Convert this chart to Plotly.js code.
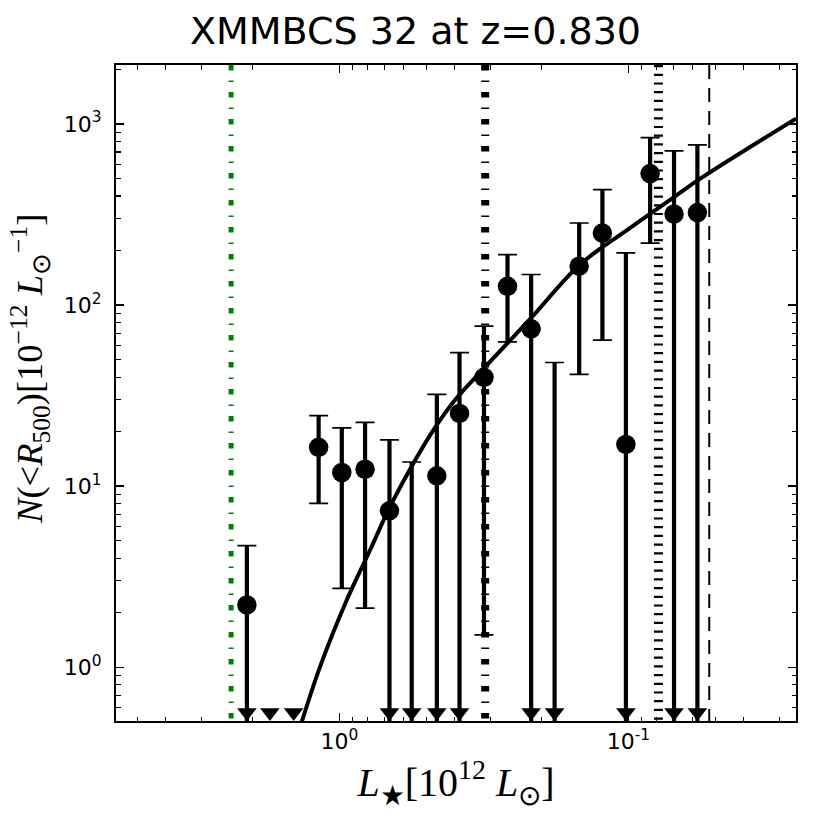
<!DOCTYPE html>
<html>
<head>
<meta charset="utf-8">
<script src="https://cdn.plot.ly/plotly-3.0.1.min.js"></script>
<style>html,body{margin:0;padding:0;background:#fff;}#chart{width:830px;height:830px;}</style>
</head>
<body>
<div id="chart"></div>
<script>
// ---- data ----
const binX = [2.09, 1.74, 1.44, 1.18, 0.981, 0.815, 0.671, 0.562, 0.460, 0.384,
              0.316, 0.262, 0.217, 0.180, 0.148, 0.123, 0.102, 0.0841, 0.0695, 0.0577];
// central values (null = not drawn / below range)
const nMid = [2.21, null, null, 16.4, 11.9, 12.4, 7.31, null, 11.4, 25.2,
              39.9, 127, 73.9, null, 164, 250, 17.0, 532, 318, 324];
// upper end of error bar (null = no bar)
const nHi  = [4.69, null, null, 24.5, 21.0, 22.5, 18.0, 13.6, 32.1, 54.7,
              76.5, 190, 147.5, 48.2, 284, 434, 194, 841, 710, 766];
// lower end of error bar (0 = reaches zero -> upper limit arrow)
const nLo  = [0, 0, 0, 8.04, 2.73, 2.12, 0, 0, 0, 0,
              1.51, 62.7, 0, 0, 41.4, 64.0, 0, 220, 0, 0];

// fitted curve
const fitX = [1.349, 1.166, 0.943, 0.783, 0.677, 0.547, 0.473, 0.398, 0.316, 0.217, 0.148, 0.102, 0.0695, 0.0564, 0.0263];
const fitY = [0.501, 1.008, 2.35, 4.44, 7.38, 13.9, 20.4, 29.9, 44.8, 85.0, 166, 257, 395, 499, 1071];

// vertical reference lines
const vlineX = [2.37, 0.313, 0.0787, 0.0525];

// texts
const titleText = 'XMMBCS 32 at z=0.830';
const xTitle = '<i>L</i><sub>★</sub>[10<sup>12</sup> <i>L</i><sub>⊙</sub>]';
const yTitle = '<i>N</i>(&lt;<i>R</i><sub>500</sub>)[10<sup>−12</sup> <i>L</i><sub>⊙</sub><sup>−1</sup>]';

// axes
const xRange = [5.93, 0.0263];
const yRange = [0.505, 2117];
const xTickVals = [1, 0.1];
const xTickText = ['10<sup>0</sup>', '10<sup>-1</sup>'];
const yTickVals = [1, 10, 100, 1000];
const yTickText = ['10<sup>0</sup>', '10<sup>1</sup>', '10<sup>2</sup>', '10<sup>3</sup>'];
const xMinor = [0.03,0.04,0.05,0.06,0.07,0.08,0.09,0.2,0.3,0.4,0.5,0.6,0.7,0.8,0.9,2,3,4,5];
const yMinor = [0.6,0.7,0.8,0.9,2,3,4,5,6,7,8,9,20,30,40,50,60,70,80,90,200,300,400,500,600,700,800,900,2000];

// ---- derived ----
const ebX = [], ebY = [], ebP = [], ebM = [];
for (let i = 0; i < binX.length; i++) {
  if (nHi[i] === null) continue;
  const y = (nMid[i] !== null) ? nMid[i] : nHi[i];
  ebX.push(binX[i]); ebY.push(y);
  ebP.push(nHi[i] - y);
  ebM.push(nLo[i] > 0 ? y - nLo[i] : y);
}
const ptX = [], ptY = [];
for (let i = 0; i < binX.length; i++) if (nMid[i] !== null) { ptX.push(binX[i]); ptY.push(nMid[i]); }
const limY0 = yRange[0] * 1.115;
const limX = [], limY = [];
for (let i = 0; i < binX.length; i++) if (!(nLo[i] > 0)) { limX.push(binX[i]); limY.push(limY0); }

const hidden = {size: 1, color: 'rgba(0,0,0,0)'};
const traces = [
  {x: fitX, y: fitY, mode: 'lines', line: {color: 'black', width: 4, shape: 'spline'}, hoverinfo: 'skip'},
  {x: ebX, y: ebY, mode: 'markers', marker: hidden,
   error_y: {type: 'data', symmetric: false, array: ebP, arrayminus: ebM, color: 'black', thickness: 4.2, width: 0}},
  {x: ebX, y: ebY, mode: 'markers', marker: hidden,
   error_y: {type: 'data', symmetric: false, array: ebP, arrayminus: ebM, color: 'black', thickness: 1.7, width: 9.5}},
  {x: ptX, y: ptY, mode: 'markers', marker: {symbol: 'circle', size: 19.5, color: 'black'}},
  {x: limX, y: limY, mode: 'markers', marker: {symbol: 'triangle-down', size: 17, color: 'black'}, cliponaxis: true}
];

const vStyles = [
  {color: '#008000', width: 5, dash: '5.5px,10px,1.5px,10px'},
  {color: 'black', width: 8, dash: '5.5px,10px,1.5px,10px'},
  {color: 'black', width: 9, dash: '2.2px,6.5px'},
  {color: 'black', width: 2, dash: '14px,9px'}
];
const shapes = vlineX.map((v, i) => ({type: 'line', xref: 'x', yref: 'paper', x0: v, x1: v, y0: 1, y1: 0,
  line: vStyles[i], layer: 'below'}));

const axCommon = {
  type: 'log', showgrid: false, zeroline: false, showline: true, linecolor: 'black', linewidth: 2,
  mirror: 'ticks', ticks: 'inside', ticklen: 8, tickwidth: 1.5, tickcolor: 'black',
  tickmode: 'array', tickfont: {family: 'DejaVu Sans', size: 22, color: 'black'}
};
const layout = {
  width: 830, height: 830,
  margin: {l: 116, r: 34, t: 65, b: 109},
  paper_bgcolor: 'white', plot_bgcolor: 'white',
  showlegend: false,
  title: {text: titleText, font: {family: 'DejaVu Sans', size: 38, color: 'black'},
          xref: 'container', x: 0.5006, xanchor: 'center', yref: 'container', y: 0.9627, yanchor: 'middle'},
  xaxis: Object.assign({}, axCommon, {
    range: [Math.log10(xRange[0]), Math.log10(xRange[1])],
    tickvals: xTickVals, ticktext: xTickText,
    minor: {tickmode: 'array', tickvals: xMinor, ticks: 'inside', ticklen: 4.5, tickwidth: 1.2, tickcolor: 'black', showgrid: false},
    title: {text: xTitle, font: {family: 'Liberation Serif', size: 40, color: 'black'}, standoff: 11}
  }),
  yaxis: Object.assign({}, axCommon, {
    range: [Math.log10(yRange[0]), Math.log10(yRange[1])],
    tickvals: yTickVals, ticktext: yTickText, ticklabelstandoff: 8,
    minor: {tickmode: 'array', tickvals: yMinor, ticks: 'inside', ticklen: 4.5, tickwidth: 1.2, tickcolor: 'black', showgrid: false}
  }),
  annotations: [{
    text: yTitle, xref: 'paper', yref: 'paper', x: -0.1265, y: 0.5366, xanchor: 'center', yanchor: 'middle',
    textangle: -90, showarrow: false, font: {family: 'Liberation Serif', size: 36.5, color: 'black'}
  }],
  shapes: shapes
};
Plotly.newPlot('chart', traces, layout, {displayModeBar: false, staticPlot: true});
</script>
</body>
</html>
